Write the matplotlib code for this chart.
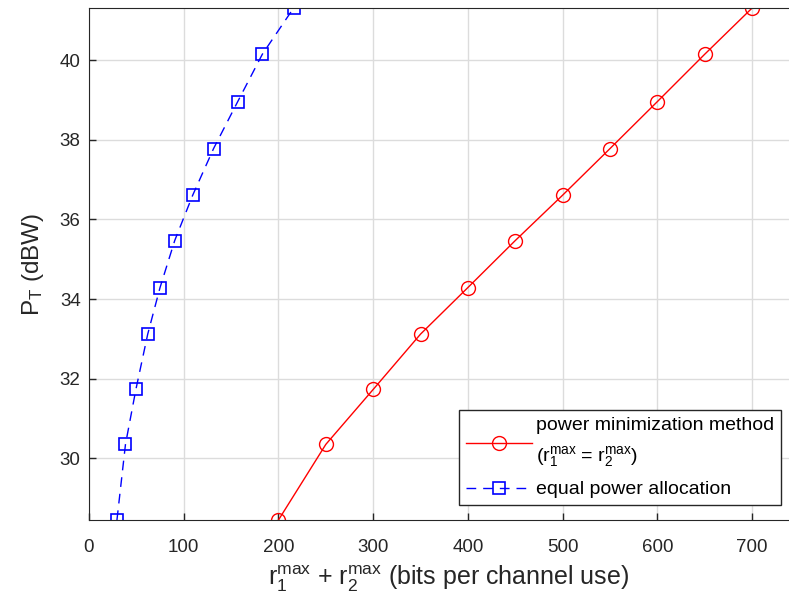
import matplotlib.pyplot as plt

plt.rcParams['font.family'] = ['Liberation Sans', 'DejaVu Sans']
plt.rcParams['mathtext.fontset'] = 'custom'
plt.rcParams['mathtext.rm'] = 'Liberation Sans'
plt.rcParams['mathtext.it'] = 'Liberation Sans'

# power (dBW) shared by both curves
pt = [28.45, 30.35, 31.73, 33.12, 34.29, 35.47, 36.61, 37.78, 38.96, 40.15, 41.31]
# sum rate for power minimization method
rate_min = [200, 250, 300, 350, 400, 450, 500, 550, 600, 650, 700]
# sum rate for equal power allocation
rate_eq = [29.5, 38.5, 49.5, 62, 75, 90.5, 109.5, 131.5, 157, 183, 216]

xticks = [0, 100, 200, 300, 400, 500, 600, 700]
yticks = [30, 32, 34, 36, 38, 40]

fig = plt.figure(figsize=(7.89, 6.07), dpi=100)
ax = fig.add_axes([0.1128, 0.1433, 0.9125, 0.8435])

ax.plot(rate_min, pt, '-o', color='red', lw=1, ms=10, mfc='none', mew=1,
        label='power minimization method\n($\\rm r_1^{max}$ = $\\rm r_2^{max}$)')
ax.plot(rate_eq, pt, '--s', color='blue', lw=1, ms=8.5, mfc='none', mew=1.2,
        dashes=(7, 5), label='equal power allocation')

ax.set_xlim(0, 760)
ax.set_ylim(28.45, 41.31)
ax.set_xticks(xticks)
ax.set_yticks(yticks)
ax.grid(True, color='#dcdcdc', lw=1)
ax.set_axisbelow(True)
ax.tick_params(direction='in', length=5, labelsize=13.5, colors='#262626', width=1)
ax.tick_params(axis='x', pad=14)
ax.tick_params(axis='y', pad=6)
for s in ax.spines.values():
    s.set_color('#262626')

ax.set_xlabel('$\\rm r_1^{max}$ + $\\rm r_2^{max}$ (bits per channel use)',
              fontsize=18, color='#262626', labelpad=5)
ax.set_ylabel('$\\rm P_T$ (dBW)', fontsize=17.5, color='#262626', labelpad=10)

leg = ax.legend(loc='lower right', bbox_to_anchor=(0.961, 0.029),
                fontsize=14, fancybox=False, edgecolor='#262626', framealpha=1,
                handlelength=3.4, borderaxespad=0, handletextpad=0.2,
                borderpad=0.35, labelspacing=0.6)
leg.get_frame().set_linewidth(1)
leg.get_texts()[0].set_linespacing(1.6)

fig.savefig('out.png', dpi=100)
